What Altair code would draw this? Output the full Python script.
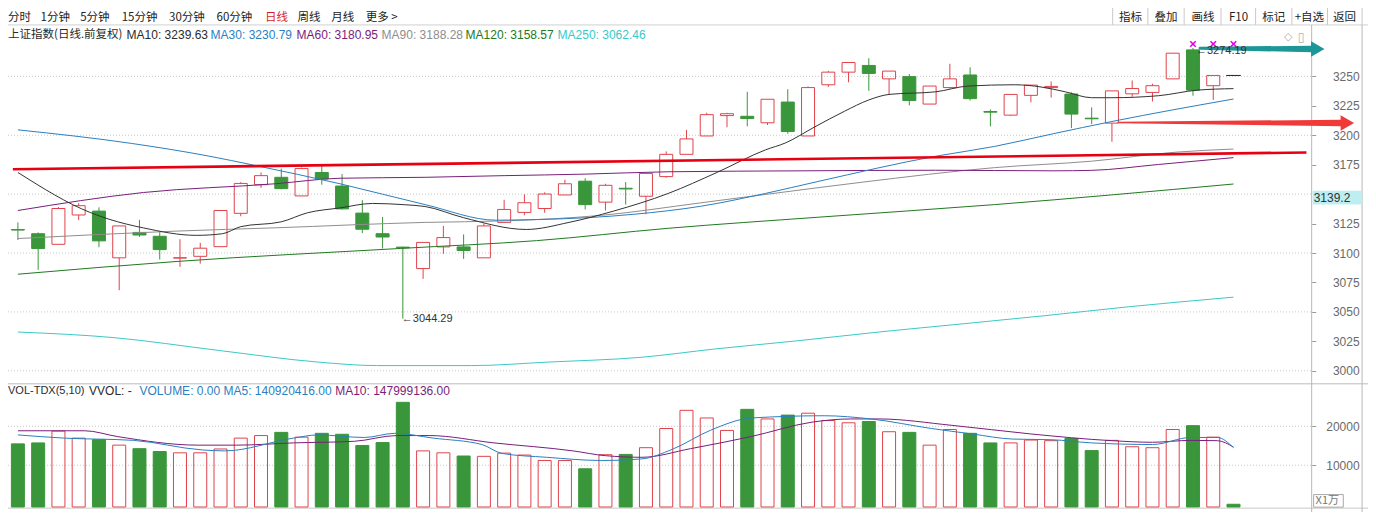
import altair as alt
import pandas as pd

# ---------------- data ----------------
OPEN = [3119.9, 3116.4, 3107.4, 3132.3, 3135.6, 3095.9, 3117.5, 3114.2, 3095.7, 3097.2,
        3105.4, 3133.7, 3158.0, 3164.3, 3148.5, 3168.4, 3156.9, 3133.9, 3116.4, 3105.0,
        3086.8, 3105.2, 3105.2, 3095.9, 3126.0, 3134.5, 3137.8, 3149.3, 3161.0, 3143.2,
        3155.0, 3148.2, 3164.9, 3183.8, 3199.4, 3216.7, 3216.1, 3210.6, 3228.2, 3199.4,
        3242.9, 3253.6, 3259.3, 3247.9, 3249.8, 3226.5, 3240.5, 3251.2, 3220.2, 3217.1,
        3233.9, 3240.5, 3235.0, 3214.5, 3210.3, 3235.2, 3236.4, 3247.9, 3272.5, 3242.1]
CLOSE = [3119.5, 3103.8, 3137.8, 3140.2, 3110.3, 3123.0, 3115.3, 3102.9, 3096.0, 3104.1,
         3136.1, 3159.1, 3165.7, 3154.7, 3171.7, 3162.9, 3137.5, 3120.2, 3113.6, 3104.4,
         3109.0, 3113.1, 3102.1, 3123.0, 3137.0, 3142.7, 3150.1, 3158.8, 3141.1, 3157.5,
         3154.4, 3167.6, 3183.8, 3196.9, 3217.5, 3218.3, 3214.2, 3230.6, 3203.2, 3240.5,
         3253.6, 3261.8, 3252.5, 3254.5, 3229.5, 3241.8, 3247.9, 3231.1, 3219.6, 3234.7,
         3242.6, 3241.5, 3218.0, 3214.0, 3237.7, 3239.7, 3242.1, 3269.7, 3238.3, 3250.8]
HIGH = [3126.0, 3117.5, 3139.0, 3142.4, 3138.8, 3123.0, 3128.2, 3117.7, 3111.7, 3108.7,
        3136.1, 3160.2, 3168.4, 3171.7, 3172.5, 3173.9, 3167.0, 3144.9, 3130.6, 3105.4,
        3109.0, 3123.0, 3115.8, 3125.1, 3145.2, 3149.8, 3151.5, 3162.3, 3163.5, 3158.8,
        3160.2, 3167.6, 3186.3, 3204.6, 3219.1, 3219.1, 3236.9, 3230.6, 3239.1, 3241.5,
        3254.7, 3261.8, 3265.4, 3254.5, 3252.0, 3241.8, 3260.7, 3257.7, 3221.8, 3234.7,
        3242.6, 3245.7, 3236.4, 3223.7, 3237.7, 3246.5, 3243.8, 3269.7, 3274.19, 3250.8]
LOW = [3111.0, 3085.7, 3107.4, 3127.9, 3104.9, 3068.4, 3113.6, 3094.5, 3088.2, 3091.0,
       3105.4, 3131.2, 3155.3, 3154.0, 3148.5, 3158.0, 3136.8, 3116.9, 3103.8, 3044.29,
       3078.0, 3099.2, 3095.0, 3095.9, 3126.0, 3132.0, 3134.2, 3149.3, 3137.0, 3136.1,
       3141.1, 3132.9, 3164.0, 3183.8, 3199.4, 3206.8, 3207.6, 3208.7, 3201.3, 3199.4,
       3241.0, 3245.0, 3237.7, 3234.7, 3225.4, 3226.5, 3239.7, 3229.5, 3207.6, 3216.3,
       3228.0, 3232.0, 3206.2, 3209.5, 3194.5, 3232.8, 3228.7, 3247.9, 3233.6, 3230.0]
LAST_I = 60
LAST_P = 3250.8

# volume, unit: 万 (x1万)
VOLUME = [15492, 15738, 18770, 16967, 16557, 15164, 14262, 13525, 13197, 13197,
          14180, 16967, 17623, 18443, 17213, 18197, 17951, 15082, 15820, 26148,
          13689, 13197, 12377, 12295, 13115, 12623, 11230, 11230, 9098, 12705,
          12787, 14508, 19426, 24098, 22131, 18934, 24344, 21885, 22869, 23361,
          21475, 20902, 21230, 18607, 18443, 15164, 19180, 18197, 15738, 15738,
          16475, 16311, 16885, 13770, 16393, 14754, 14508, 19180, 20164, 17213, 0]

MA10_I = [0, 3.6, 4.5, 6.2, 8.8, 10.1, 11.0, 13.0, 14.3, 15.9, 17.5, 19.1, 20.1, 22.0, 25.1, 27.2, 29.4, 32.1,
          34.5, 36.9, 37.9, 39.3, 40.8, 42.0, 43.0, 45.3, 46.9, 49.2, 50.5, 51.7, 53.0, 54.0, 56.3, 58.2, 60]
MA10_V = [3168.4, 3134.2, 3128.7, 3121.3, 3115.0, 3116.4, 3122.4, 3126.5, 3134.2, 3138.3, 3142.1, 3141.0,
          3139.5, 3130.0, 3120.0, 3126.0, 3135.6, 3150.6, 3168.4, 3187.6, 3193.6, 3206.8, 3220.4, 3230.0,
          3234.7, 3236.9, 3241.8, 3242.9, 3241.0, 3236.9, 3231.9, 3231.9, 3233.6, 3238.3, 3239.6]
MA30_I = [0, 5.6, 9.4, 11.7, 15.9, 20.1, 23.6, 25.6, 28.2, 30.4, 33.7, 36.9, 39.5, 45.3, 48.2, 51.1, 54.0, 60]
MA30_V = [3204.6, 3193.1, 3182.4, 3174.4, 3158.8, 3141.1, 3127.9, 3128.4, 3130.1, 3132.9, 3139.7, 3150.6,
          3160.8, 3182.2, 3190.5, 3201.3, 3211.7, 3230.8]
MA60_I = [0, 6.2, 12.7, 15.9, 20.1, 24.0, 28.0, 32.1, 38.8, 45.3, 51.1, 53.0, 56.3, 60]
MA60_V = [3136.1, 3151.4, 3158.8, 3163.5, 3164.3, 3165.7, 3167.0, 3169.0, 3169.8, 3170.3, 3169.8, 3170.2,
          3175.2, 3181.0]
MA90_I = [0, 7.8, 12.7, 20.1, 24.0, 28.8, 33.7, 39.5, 41.7, 48.2, 53.0, 57.2, 60]
MA90_V = [3112.3, 3118.6, 3121.4, 3126.0, 3127.3, 3132.0, 3142.6, 3155.5, 3160.2, 3172.5, 3178.0, 3185.7, 3188.3]
MA120_I = [0, 7.9, 18.9, 25.6, 32.1, 39.5, 48.2, 60]
MA120_V = [3082.0, 3092.9, 3103.9, 3110.5, 3121.0, 3130.4, 3141.1, 3158.6]
MA250_I = [0, 4.7, 9.9, 14.8, 17.7, 22.4, 26.2, 30.8, 34.4, 38.5, 42.6, 46.6, 50.7, 54.8, 60]
MA250_V = [3032.9, 3028.2, 3017.3, 3007.4, 3004.4, 3004.4, 3007.4, 3011.5, 3018.5, 3025.5, 3033.1, 3039.8,
           3046.8, 3054.3, 3062.5]

VMA5_I = [0, 2.3, 5.7, 9.1, 10.2, 13.6, 14.8, 17.1, 18.6, 20.5, 22.9, 23.9, 26.1, 28.8, 30.8, 32.3, 34.2,
          36.2, 39.8, 42.1, 45.1, 47.1, 49.1, 51.0, 53.0, 56.0, 57.9, 59.2, 60]
VMA5_V = [17787, 16967, 16393, 13934, 13689, 16967, 17787, 17131, 18197, 16967, 15328, 13033, 12049, 11230,
          11639, 14098, 19016, 22131, 22705, 21885, 19426, 18033, 16721, 16557, 15738, 15328, 17131, 17131, 14508]
VMA10_I = [0, 3.3, 4.9, 8.9, 10.8, 13.6, 16.6, 18.7, 20.3, 23.5, 27.4, 29.0, 30.8, 33.2, 36.2, 39.2, 41.1,
           42.5, 46.1, 50.0, 54.0, 56.0, 57.9, 59.2, 60]
VMA10_V = [18852, 18852, 17377, 15164, 15164, 15738, 16148, 17623, 17623, 15738, 13689, 12459, 12049, 14262,
           17377, 21066, 21885, 21885, 20246, 18033, 16311, 15902, 16393, 16311, 14672]

AXIS_PRICES = [3000, 3025, 3050, 3075, 3100, 3125, 3175, 3200, 3225, 3250]
GRID_PRICES = [3000, 3050, 3100, 3150, 3200, 3250]
VOL_TICKS = [10000, 20000]

# drawn annotations (in data coordinates)
TREND_I = [-0.25, 63.6]
TREND_P = [3171.1, 3185.4]
RED_ARROW_I = [54.3, 65.3]
RED_ARROW_P = [3210.9, 3210.4]
RED_HEAD_I = 65.62
TEAL_ARROW_I = [58.35, 63.85]
TEAL_ARROW_P = [3273.8, 3273.3]
TEAL_HEAD_I = 64.16
MARKER_I = [58, 59, 60]
MARKER_P = 3277.5
LOW_MARK = (19, 3044.29)
HIGH_MARK = (58, 3274.19)
CURSOR_PRICE_TEXT = "3139.2"

TOOLBAR = ["分时", "1分钟", "5分钟", "15分钟", "30分钟", "60分钟", "日线", "周线", "月线", "更多 >"]
BUTTONS = ["指标", "叠加", "画线", "F10", "标记", "+自选", "返回"]
LEGEND = ["上证指数(日线.前复权)", "MA10: 3239.63", "MA30: 3230.79", "MA60: 3180.95",
          "MA90: 3188.28", "MA120: 3158.57", "MA250: 3062.46"]
VLEGEND = ["VOL-TDX(5,10)", "VVOL: -", "VOLUME: 0.00", "MA5: 140920416.00", "MA10: 147999136.00"]

# ---------------- layout ----------------
W, H = 1360, 504
RW, RH = 1376, 521
SX, SY = W / RW, H / RH


def px(x):
    return round(x * SX, 2)


def py(y):
    return round(y * SY, 2)


STEP, X0 = 20.65, 5.0
X_DOM = [(0 - X0) / STEP, (RW - X0) / STEP]
PPX = 25 / 30.43
P_DOM = [3000 - (RH - 375) * PPX, 3000 + 375 * PPX]
VPX = 10000 / 40.3
V_DOM = [(513 - RH) * VPX, 513 * VPX]
AX_X = 1319  # reference x of the price-axis line

RED = "#e0434b"
GREEN = "#3a963a"
INK = "#2b2b2b"
LAT = "Liberation Sans"
CJK = "Noto Sans CJK SC"
C_MA10, C_MA30, C_MA60 = "#333333", "#2b7fc0", "#7a1e7a"
C_MA90, C_MA120, C_MA250 = "#8e8e8e", "#207a20", "#3cc8c8"
BODY_W = 14

XS = alt.Scale(domain=X_DOM, nice=False, zero=False)


def X(field="i"):
    return alt.X(f"{field}:Q", scale=XS, axis=None)


def PY(field, axis=None):
    return alt.Y(f"{field}:Q", scale=alt.Scale(domain=P_DOM, nice=False, zero=False), axis=axis)


def VY(field, axis=None):
    return alt.Y(f"{field}:Q", scale=alt.Scale(domain=V_DOM, nice=False, zero=False), axis=axis)


def text_layer(s, x, y, color=INK, size=12, font=LAT, align="left"):
    return alt.Chart(pd.DataFrame({"t": [s]})).mark_text(
        align=align, baseline="middle", font=font, fontSize=size, color=color
    ).encode(x=alt.value(px(x)), y=alt.value(py(y)), text="t:N")


ONE = pd.DataFrame({"k": [0]})


def hline(y, x1=0, x2=RW, color="#c8c8c8", dash=None):
    kw = dict(color=color, strokeWidth=1)
    if dash:
        kw["strokeDash"] = dash
    return alt.Chart(ONE).mark_rule(**kw).encode(
        x=alt.value(px(x1)), x2=alt.value(px(x2)), y=alt.value(py(y)))


def vline(x, y1=0, y2=RH, color="#c8c8c8"):
    return alt.Chart(ONE).mark_rule(color=color, strokeWidth=1).encode(
        x=alt.value(px(x)), y=alt.value(py(y1)), y2=alt.value(py(y2)))


layers = []

# ---- price grid + price axis ----
price_axis = alt.Axis(orient="right", offset=px(AX_X) - W, values=AXIS_PRICES, domain=False,
                      ticks=True, tickSize=4, tickColor="#9a9a9a", labelAlign="right",
                      labelPadding=px(1367) - px(AX_X) - 4, labelColor="#6a6a6a", labelFont=LAT,
                      labelFontSize=12, grid=False, title=None, labelBaseline="middle", format="d")
grid_df = pd.DataFrame({"p": GRID_PRICES})
layers.append(alt.Chart(grid_df).mark_rule(color="#c9c9c9", strokeDash=[1, 2], strokeWidth=1).encode(
    y=PY("p", price_axis), x=alt.value(0), x2=alt.value(px(AX_X))))

# ---- volume grid + volume axis ----
vol_axis = alt.Axis(orient="right", offset=px(AX_X) - W, values=VOL_TICKS, domain=False,
                    ticks=True, tickSize=4, tickColor="#9a9a9a", labelAlign="right",
                    labelPadding=px(1367) - px(AX_X) - 4, labelColor="#6a6a6a", labelFont=LAT,
                    labelFontSize=12, grid=False, title=None, labelBaseline="middle", format="d")
vgrid_df = pd.DataFrame({"v": VOL_TICKS})
layers.append(alt.Chart(vgrid_df).mark_rule(color="#c9c9c9", strokeDash=[1, 2], strokeWidth=1).encode(
    y=VY("v", vol_axis), x=alt.value(0), x2=alt.value(px(AX_X))))

# ---- frame lines ----
layers += [
    hline(17.5, color="#d0d0d0"),
    hline(388.5, color="#bdbdbd"),
    hline(517, color="#c8c8c8"),
    vline(AX_X, 17.5, RH, color="#b8b8b8"),
    vline(1370, 17.5, RH, color="#b8b8b8"),
]
for bx in [1117.7, 1153.3, 1190, 1227.3, 1262.3, 1299, 1335, 1370]:
    layers.append(vline(bx, 0, 17.5, color="#c8c8c8"))

# ---- candles ----
n = len(OPEN)
cdf = pd.DataFrame({"i": list(range(n)), "open": OPEN, "close": CLOSE, "high": HIGH, "low": LOW})
cdf["top"] = cdf[["open", "close"]].max(axis=1)
cdf["bot"] = cdf[["open", "close"]].min(axis=1)
cdf["dir"] = ["up" if c >= o else "down" for o, c in zip(OPEN, CLOSE)]
base = alt.Chart(cdf)
up = base.transform_filter(alt.datum.dir == "up")
down = base.transform_filter(alt.datum.dir == "down")
layers += [
    up.mark_rule(color=RED, strokeWidth=1).encode(x=X(), y=PY("high"), y2=alt.Y2("top")),
    up.mark_rule(color=RED, strokeWidth=1).encode(x=X(), y=PY("bot"), y2=alt.Y2("low")),
    up.mark_bar(width=BODY_W - 1, fill="#ffffff", fillOpacity=0, stroke=RED, strokeWidth=1).encode(
        x=X(), y=PY("bot"), y2=alt.Y2("top")),
    down.mark_rule(color=GREEN, strokeWidth=1).encode(x=X(), y=PY("low"), y2=alt.Y2("high")),
    down.mark_bar(width=BODY_W - 1, color=GREEN, stroke=GREEN, strokeWidth=1).encode(
        x=X(), y=PY("bot"), y2=alt.Y2("top")),
]
last_df = pd.DataFrame({"a": [LAST_I - 0.36], "b": [LAST_I + 0.36], "p": [LAST_P]})
layers.append(alt.Chart(last_df).mark_rule(color="#222222", strokeWidth=1).encode(
    x=X("a"), x2=alt.X2("b"), y=PY("p")))

# ---- moving averages ----
for idx, vals, col in [(MA250_I, MA250_V, C_MA250), (MA120_I, MA120_V, C_MA120),
                       (MA90_I, MA90_V, C_MA90), (MA60_I, MA60_V, C_MA60),
                       (MA30_I, MA30_V, C_MA30), (MA10_I, MA10_V, C_MA10)]:
    layers.append(alt.Chart(pd.DataFrame({"i": idx, "p": vals})).mark_line(
        color=col, strokeWidth=1, interpolate="monotone").encode(x=X(), y=PY("p")))

# ---- drawn trend line ----
layers.append(alt.Chart(pd.DataFrame({"i": TREND_I, "p": TREND_P})).mark_line(
    color="#e60012", strokeWidth=2.6).encode(x=X(), y=PY("p")))

# ---- volume bars ----
vdf = pd.DataFrame({"i": list(range(len(VOLUME))), "v": VOLUME, "base": [-700] * len(VOLUME)})
vdf["dir"] = [("up" if CLOSE[k] >= OPEN[k] else "down") if k < n else "down" for k in range(len(VOLUME))]
vbase = alt.Chart(vdf)
layers += [
    vbase.transform_filter(alt.datum.dir == "up").mark_bar(
        width=BODY_W - 1, fill="#ffffff", fillOpacity=0, stroke=RED, strokeWidth=1).encode(
        x=X(), y=VY("v"), y2=alt.Y2("base")),
    vbase.transform_filter(alt.datum.dir == "down").mark_bar(
        width=BODY_W - 1, color=GREEN, stroke=GREEN, strokeWidth=1).encode(
        x=X(), y=VY("v"), y2=alt.Y2("base")),
]
for idx, vals, col in [(VMA10_I, VMA10_V, C_MA60), (VMA5_I, VMA5_V, C_MA30)]:
    layers.append(alt.Chart(pd.DataFrame({"i": idx, "v": vals})).mark_line(
        color=col, strokeWidth=1, interpolate="monotone").encode(x=X(), y=VY("v")))

# ---- annotations: arrows ----
red_df = pd.DataFrame({"i": RED_ARROW_I, "p": RED_ARROW_P, "w": [1.5, 6.5]})
layers.append(alt.Chart(red_df).mark_trail(color="#f03a3a").encode(
    x=X(), y=PY("p"), size=alt.Size("w:Q", scale=None, legend=None)))
layers.append(alt.Chart(pd.DataFrame({"i": [RED_HEAD_I], "p": [RED_ARROW_P[1]]})).mark_point(
    shape="triangle-right", filled=True, size=240, color="#f03a3a", opacity=1).encode(x=X(), y=PY("p")))
teal_df = pd.DataFrame({"i": TEAL_ARROW_I, "p": TEAL_ARROW_P, "w": [3.0, 6.5]})
layers.append(alt.Chart(teal_df).mark_trail(color="#1c9696").encode(
    x=X(), y=PY("p"), size=alt.Size("w:Q", scale=None, legend=None)))
layers.append(alt.Chart(pd.DataFrame({"i": [TEAL_HEAD_I], "p": [TEAL_ARROW_P[1]]})).mark_point(
    shape="triangle-right", filled=True, size=240, color="#1c9696", opacity=1).encode(x=X(), y=PY("p")))

# magenta markers
layers.append(alt.Chart(pd.DataFrame({"i": MARKER_I, "p": [MARKER_P] * len(MARKER_I)})).mark_point(
    shape="M-1,-1L1,1M-1,1L1,-1", filled=False, size=30, strokeWidth=1.6, color="#e000e0",
    opacity=1).encode(x=X(), y=PY("p")))

# high / low labels
lab_df = pd.DataFrame({"i": [LOW_MARK[0]], "p": [LOW_MARK[1]], "t": [f"←{LOW_MARK[1]:.2f}"]})
layers.append(alt.Chart(lab_df).mark_text(align="left", baseline="middle", font=LAT, fontSize=11,
                                          color="#333333", dx=-1).encode(x=X(), y=PY("p"), text="t:N"))
hlab_df = pd.DataFrame({"i": [HIGH_MARK[0]], "p": [HIGH_MARK[1]], "t": [f"←{HIGH_MARK[1]:.2f}"]})
layers.append(alt.Chart(hlab_df).mark_text(align="left", baseline="middle", font=LAT, fontSize=11,
                                           color="#333333", dx=3, dy=3).encode(x=X(), y=PY("p"), text="t:N"))

# cursor price box and X1万 box
layers.append(alt.Chart(ONE).mark_rect(color="#bdeff2").encode(
    x=alt.value(px(1320)), x2=alt.value(px(1370)), y=alt.value(py(189)), y2=alt.value(py(203))))
layers.append(text_layer(CURSOR_PRICE_TEXT, 1321, 196.5, color="#333333", size=12))
layers.append(alt.Chart(ONE).mark_rect(fill="#ffffff", stroke="#a8a8a8", strokeWidth=1).encode(
    x=alt.value(px(1321)), x2=alt.value(px(1351)), y=alt.value(py(503)), y2=alt.value(py(516))))
layers.append(text_layer("X1万", 1323, 509.5, color="#777777", size=11, font=CJK))
layers.append(text_layer("◇", 1291, 30, color="#b0b0b0", size=11, font="DejaVu Sans"))
layers.append(text_layer("▯", 1305, 30, color="#b0b0b0", size=12, font="DejaVu Sans"))

# ---- toolbar ----
TOOLBAR_X = [0, 33, 73, 115, 163, 211, 260, 293, 327, 362]
for s, x in zip(TOOLBAR, TOOLBAR_X):
    layers.append(text_layer(s, x, 10, color="#d81e1e" if s == "日线" else "#222222", size=11.5, font=CJK))
BUTTON_X = [1135.7, 1171.7, 1209, 1245, 1280.7, 1316.7, 1352.3]
for s, x in zip(BUTTONS, BUTTON_X):
    layers.append(text_layer(s, x, 10, color="#222222", size=11.5, font=CJK, align="center"))

# ---- legends ----
LEGEND_X = [0, 120, 205, 292, 378, 463, 556]
LEGEND_C = [INK, INK, C_MA30, C_MA60, C_MA90, C_MA120, C_MA250]
for k, (s, x, c) in enumerate(zip(LEGEND, LEGEND_X, LEGEND_C)):
    layers.append(text_layer(s, x, 28, color=c, size=11.5 if k == 0 else 12, font=CJK if k == 0 else LAT))
VLEGEND_X = [0, 82, 133, 218, 331]
VLEGEND_C = [INK, INK, C_MA30, C_MA30, C_MA60]
VLEGEND_S = [11, 12, 12, 12, 12]
for s, x, c, fs in zip(VLEGEND, VLEGEND_X, VLEGEND_C, VLEGEND_S):
    layers.append(text_layer(s, x, 396, color=c, size=fs))

chart = alt.layer(*layers).resolve_scale(y="independent").properties(
    width=W, height=H, padding=0, background="#ffffff",
    autosize=alt.AutoSizeParams(type="none", contains="padding"),
).configure_view(stroke=None)

chart.save("out.html", embed_options={"renderer": "svg", "actions": False})
